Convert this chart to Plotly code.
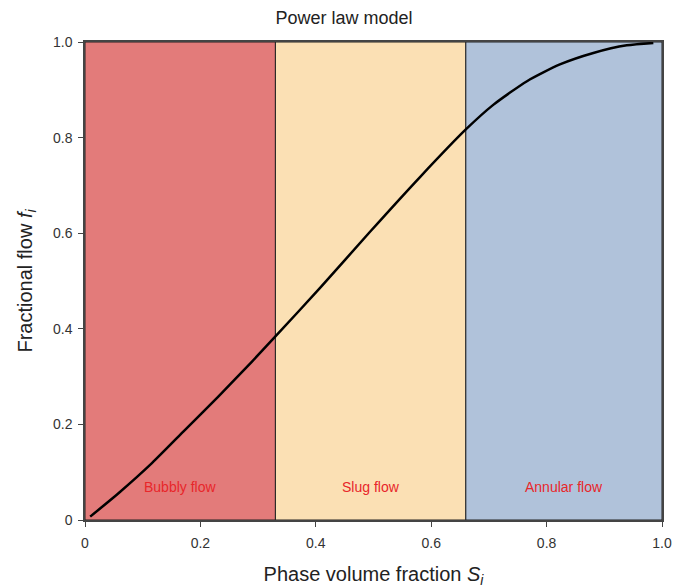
import plotly.graph_objects as go

# Flow regime boundaries along the phase volume fraction axis
regime_names = ["Bubbly flow", "Slug flow", "Annular flow"]
regime_edges = [0.0, 0.33, 0.66, 1.0]
regime_colors = ["#E37B7A", "#FBE0B4", "#B0C2DA"]

# Fractional flow curve (power law model)
s_vals = [0.009, 0.058, 0.116, 0.173, 0.231, 0.289, 0.330, 0.407, 0.494, 0.581,
          0.660, 0.708, 0.766, 0.823, 0.881, 0.939, 0.985]
f_vals = [0.007, 0.056, 0.119, 0.188, 0.258, 0.331, 0.384, 0.485, 0.603, 0.718,
          0.817, 0.869, 0.918, 0.953, 0.977, 0.993, 0.998]

tick_vals = [0, 0.2, 0.4, 0.6, 0.8, 1.0]
tick_text = ["0", "0.2", "0.4", "0.6", "0.8", "1.0"]

FONT = "Liberation Sans, Arial"

fig = go.Figure()

shapes = []
for i, name in enumerate(regime_names):
    x0, x1 = regime_edges[i], regime_edges[i + 1]
    shapes.append(dict(type="rect", xref="x", yref="y", x0=x0, x1=x1, y0=0, y1=1,
                       fillcolor=regime_colors[i], line=dict(color="#222222", width=1),
                       layer="below"))
    fig.add_annotation(x=(x0 + x1) / 2, y=0.069, text=name, showarrow=False,
                       font=dict(family=FONT, size=14, color="#E8262A"))

fig.add_trace(go.Scatter(x=s_vals, y=f_vals, mode="lines",
                         line=dict(color="black", width=2.5, shape="spline", smoothing=0.6),
                         showlegend=False, hoverinfo="skip"))

axis_common = dict(range=[0, 1], showgrid=False, zeroline=False, showline=True,
                   linecolor="#444444", linewidth=1.5, mirror=True, ticks="outside",
                   ticklen=5, tickcolor="#444444", automargin=False,
                   tickfont=dict(family=FONT, size=14, color="#333333"),
                   tickvals=tick_vals, ticktext=tick_text)

fig.update_layout(
    width=688, height=588,
    margin=dict(l=85, r=26, t=42, b=68),
    paper_bgcolor="white", plot_bgcolor="white",
    shapes=shapes,
    title=dict(text="Power law model", x=0.5, xanchor="center", y=0.98, yanchor="top",
               font=dict(family=FONT, size=18, color="#222222")),
    xaxis=dict(**axis_common, ticklabelstandoff=4,
               title=dict(text="Phase volume fraction <i>S<sub>i</sub></i>", standoff=26,
                          font=dict(family=FONT, size=20, color="#222222"))),
    yaxis=dict(**axis_common, ticklabelstandoff=3,
               title=dict(text="Fractional flow <i>f<sub>i</sub></i>", standoff=15,
                          font=dict(family=FONT, size=20, color="#222222"))),
)

fig.write_html("out.html")
